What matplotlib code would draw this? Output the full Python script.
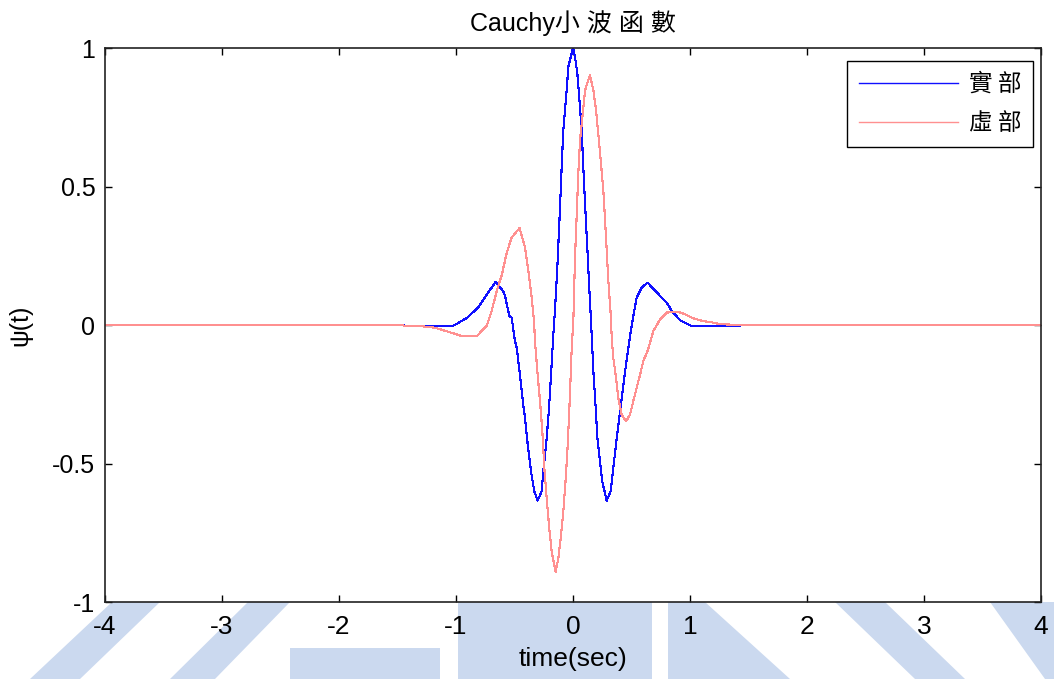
import matplotlib
matplotlib.use("Agg")
import matplotlib.pyplot as plt
from matplotlib.patches import Polygon

# Cauchy wavelet, real and imaginary parts
t_real = [-4.0, -1.444, -1.43, -1.034, -0.991, -0.906, -0.812, -0.726, -0.662,
          -0.598, -0.581, -0.544, -0.524, -0.496, -0.481, -0.468, -0.453, -0.438,
          -0.425, -0.410, -0.387, -0.359, -0.331, -0.302, -0.268, -0.254, -0.225,
          -0.205, -0.188, -0.168, -0.154, -0.134, -0.111, -0.097, -0.083, -0.054,
          -0.040, 0.0, 0.017, 0.037, 0.054, 0.074, 0.088, 0.103, 0.122, 0.139,
          0.154, 0.174, 0.194, 0.208, 0.231, 0.250, 0.288, 0.322, 0.344, 0.374,
          0.402, 0.438, 0.473, 0.502, 0.544, 0.587, 0.637, 0.744, 0.801, 0.844,
          0.915, 1.015, 1.427, 1.436, 4.0]
psi_real = [0.0, 0.0, -0.005, -0.005, 0.005, 0.026, 0.063, 0.117, 0.155,
            0.123, 0.105, 0.033, 0.026, -0.058, -0.082, -0.13, -0.18, -0.24,
            -0.29, -0.336, -0.432, -0.529, -0.60, -0.634, -0.60, -0.529, -0.408,
            -0.30, -0.179, -0.034, 0.055, 0.208, 0.425, 0.57, 0.703, 0.848,
            0.932, 1.0, 0.968, 0.908, 0.818, 0.703, 0.57, 0.437, 0.28, 0.135,
            0.014, -0.167, -0.30, -0.408, -0.493, -0.565, -0.634, -0.60, -0.517, -0.408,
            -0.312, -0.19, -0.082, 0.0, 0.099, 0.135, 0.153, 0.105, 0.081, 0.051,
            0.017, -0.004, -0.004, 0.0, 0.0]

t_imag = [-4.0, -1.453, -1.44, -1.282, -1.179, -1.068, -0.951, -0.823, -0.738,
          -0.695, -0.652, -0.609, -0.567, -0.524, -0.457, -0.410, -0.382, -0.353,
          -0.333, -0.325, -0.305, -0.282, -0.262, -0.245, -0.225, -0.203, -0.182,
          -0.148, -0.126, -0.105, -0.083, -0.062, -0.045, -0.026, -0.011, 0.003,
          0.017, 0.032, 0.045, 0.060, 0.083, 0.103, 0.145, 0.174, 0.197, 0.216,
          0.237, 0.259, 0.274, 0.288, 0.302, 0.322, 0.331, 0.344, 0.368, 0.387,
          0.416, 0.453, 0.487, 0.515, 0.544, 0.573, 0.601, 0.641, 0.686, 0.744,
          0.801, 0.900, 0.957, 1.028, 1.114, 1.171, 1.256, 1.427, 4.0]
psi_imag = [0.0, 0.0, -0.005, -0.005, -0.01, -0.024, -0.04, -0.04, -0.004,
            0.051, 0.123, 0.18, 0.26, 0.316, 0.35, 0.28, 0.196, 0.099,
            0.014, -0.058, -0.167, -0.275, -0.384, -0.517, -0.626, -0.734, -0.819,
            -0.891, -0.843, -0.77, -0.674, -0.553, -0.432, -0.251, -0.082, 0.02,
            0.244, 0.40, 0.546, 0.667, 0.763, 0.848, 0.902, 0.848, 0.775, 0.69,
            0.594, 0.486, 0.377, 0.268, 0.159, 0.039, -0.046, -0.118, -0.19, -0.263,
            -0.324, -0.348, -0.324, -0.275, -0.227, -0.179, -0.13, -0.09, -0.022, 0.02,
            0.045, 0.047, 0.039, 0.024, 0.014, 0.011, 0.003, 0.0, 0.0]

xticks = [-4, -3, -2, -1, 0, 1, 2, 3, 4]
yticks = [-1, -0.5, 0, 0.5, 1]
ytick_labels = ["-1", "-0.5", "0", "0.5", "1"]

latin = ["Liberation Sans", "Noto Sans CJK TC"]
cjk = ["Noto Sans CJK TC", "Liberation Sans"]

W, H = 1054, 679
fig = plt.figure(figsize=(W / 100, H / 100), dpi=100)

# faint page emblem showing under the axes (pixel outlines, y measured from top)
emblem = [
    [(30, 679), (80, 679), (160, 602), (112, 602)],
    [(170, 679), (215, 679), (290, 602), (248, 602)],
    [(290, 648), (440, 648), (440, 679), (290, 679)],
    [(458, 602), (652, 602), (652, 679), (458, 679)],
    [(668, 602), (705, 602), (790, 679), (668, 679)],
    [(835, 602), (885, 602), (965, 679), (915, 679)],
    [(990, 602), (1054, 602), (1054, 679), (1045, 679)],
]
for shape in emblem:
    pts = [(x / W, 1 - y / H) for x, y in shape]
    fig.add_artist(Polygon(pts, closed=True, transform=fig.transFigure,
                           facecolor="#cbd9ef", edgecolor="none", zorder=-1))

ax = fig.add_axes([0.0996, 0.1134, 0.8881, 0.8159])

ax.plot(t_real, psi_real, color="#1010ff", lw=0.8, antialiased=False, label="實 部")
ax.plot(t_imag, psi_imag, color="#ff9090", lw=0.8, antialiased=False, label="虛 部")

ax.set_xlim(-4, 4)
ax.set_ylim(-1, 1)
ax.set_xticks(xticks)
ax.set_xticklabels([str(v) for v in xticks], family=latin, fontsize=19)
ax.set_yticks(yticks)
ax.set_yticklabels(ytick_labels, family=latin, fontsize=18)
ax.tick_params(direction="in", top=True, right=True, length=5, width=1)
ax.tick_params(axis="x", pad=9)
ax.tick_params(axis="y", pad=7)
for s in ax.spines.values():
    s.set_linewidth(1.2)
    s.set_color("#222222")

ax.set_title("Cauchy小 波 函 數", family=latin, fontsize=18, pad=12)
ax.set_xlabel("time(sec)", family=latin, fontsize=19, labelpad=6)
ax.set_ylabel("ψ(t)", family=latin, fontsize=18, labelpad=14)

leg = ax.legend(loc="upper right", bbox_to_anchor=(0.9915, 0.9765),
                borderaxespad=0, prop={"family": cjk, "size": 17},
                fancybox=False, edgecolor="black", framealpha=1,
                handlelength=4.2, borderpad=0.5, labelspacing=0.7,
                handletextpad=0.45)
leg.get_frame().set_linewidth(1.0)
for h in leg.get_lines():
    h.set_linewidth(1.0)

fig.savefig("out.png", dpi=100, facecolor="white")
